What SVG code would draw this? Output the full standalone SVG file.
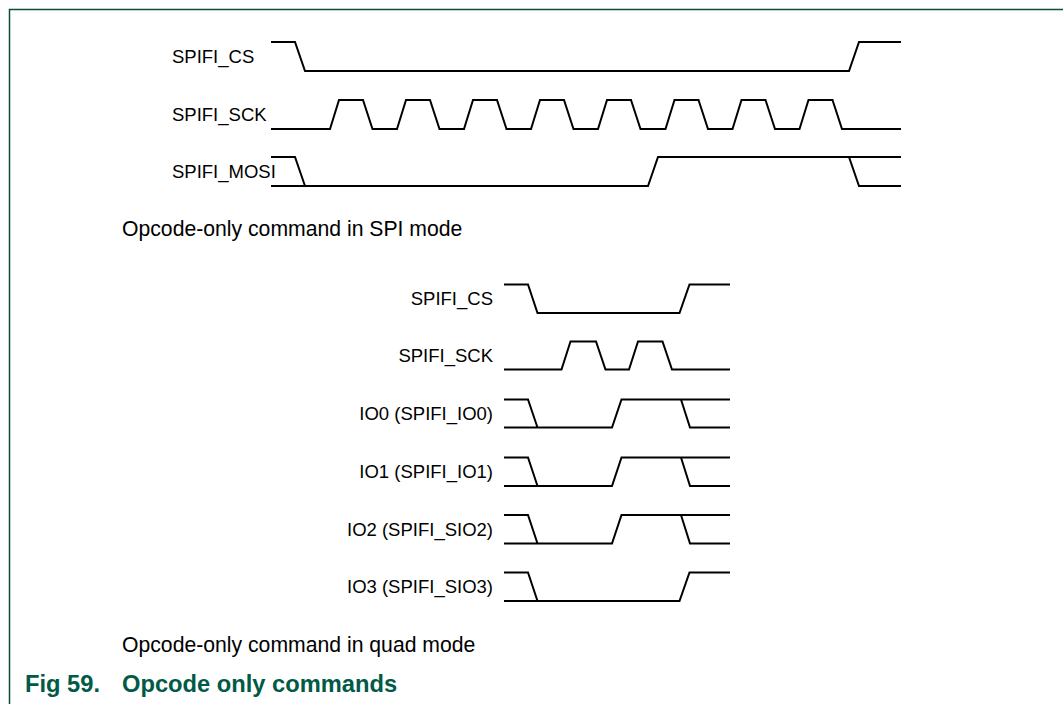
<svg xmlns="http://www.w3.org/2000/svg" width="1063" height="704" viewBox="0 0 1063 704">
<style>
.frame{fill:none;stroke:#0a4d3c;stroke-width:1.5}
.wave{fill:none;stroke:#000;stroke-width:2;stroke-linejoin:miter}
.lbl{font-family:"Liberation Sans",Arial,sans-serif;font-size:18.5px;fill:#000}
.lblr{font-family:"Liberation Sans",Arial,sans-serif;font-size:18.5px;fill:#000;text-anchor:end}
.cap{font-family:"Liberation Sans",Arial,sans-serif;font-size:21.2px;fill:#000}
.title{font-family:"Liberation Sans",Arial,sans-serif;font-size:23.7px;font-weight:bold;fill:#005a46}
</style>
<rect width="1063" height="704" fill="#fff"/>
<path class="frame" d="M1063,9.5 H9.5 V704"/>

<g id="spi-mode">
  <g id="spi-cs">
    <text class="lbl" x="172" y="62.5">SPIFI_CS</text>
    <path class="wave" d="M271,42 H295 L305,71 H849 L859,42 H901"/>
  </g>
  <g id="spi-sck">
    <text class="lbl" x="172" y="121">SPIFI_SCK</text>
    <path class="wave" d="M271,129 H330 L339,100 H363 L372.5,129 H397 L406,100 H430 L439.5,129 H464 L473,100 H497 L506.5,129 H531 L540,100 H564 L573.5,129 H598 L607,100 H631 L640.5,129 H665.5 L674.5,100 H698.5 L708,129 H732.5 L741.5,100 H765.5 L775,129 H799.5 L808.5,100 H832.5 L842,129 H901"/>
  </g>
  <g id="spi-mosi">
    <text class="lbl" x="172" y="178">SPIFI_MOSI</text>
    <path class="wave" d="M271,157 H295 L305,186 M271,186 H648 L658,157 H901 M849,157 L859,186 H901"/>
  </g>
  <text class="cap" x="122" y="236">Opcode-only command in SPI mode</text>
</g>

<g id="quad-mode">
  <g id="quad-cs">
    <text class="lblr" x="493" y="305">SPIFI_CS</text>
    <path class="wave" d="M504,284.5 H528 L537.5,313 H679.5 L689.5,284.5 H730"/>
  </g>
  <g id="quad-sck">
    <text class="lblr" x="493" y="362">SPIFI_SCK</text>
    <path class="wave" d="M504,369.5 H561.5 L570.5,341.5 H596 L605.5,369.5 H629 L638,341.5 H662.5 L672,369.5 H730"/>
  </g>
  <g id="quad-io0">
    <text class="lblr" x="493" y="420">IO0 (SPIFI_IO0)</text>
    <path class="wave" d="M504,399.5 H528 L537.5,427.5 M504,427.5 H612 L621.5,399.5 H730 M681,399.5 L690,427.5 H730"/>
  </g>
  <g id="quad-io1">
    <text class="lblr" x="493" y="478">IO1 (SPIFI_IO1)</text>
    <path class="wave" d="M504,457.5 H528 L537.5,486 M504,486 H612 L621.5,457.5 H730 M681,457.5 L690,486 H730"/>
  </g>
  <g id="quad-io2">
    <text class="lblr" x="493" y="535.5">IO2 (SPIFI_SIO2)</text>
    <path class="wave" d="M504,515 H528 L537.5,543.5 M504,543.5 H612 L621.5,515 H730 M681,515 L690,543.5 H730"/>
  </g>
  <g id="quad-io3">
    <text class="lblr" x="493" y="593">IO3 (SPIFI_SIO3)</text>
    <path class="wave" d="M504,572.5 H528 L537.5,601 M504,601 H679.5 L689.5,572.5 H730"/>
  </g>
  <text class="cap" x="122" y="652">Opcode-only command in quad mode</text>
</g>

<g id="figure-title">
  <text class="title" x="25" y="692">Fig 59.</text>
  <text class="title" x="122" y="692">Opcode only commands</text>
</g>
</svg>
